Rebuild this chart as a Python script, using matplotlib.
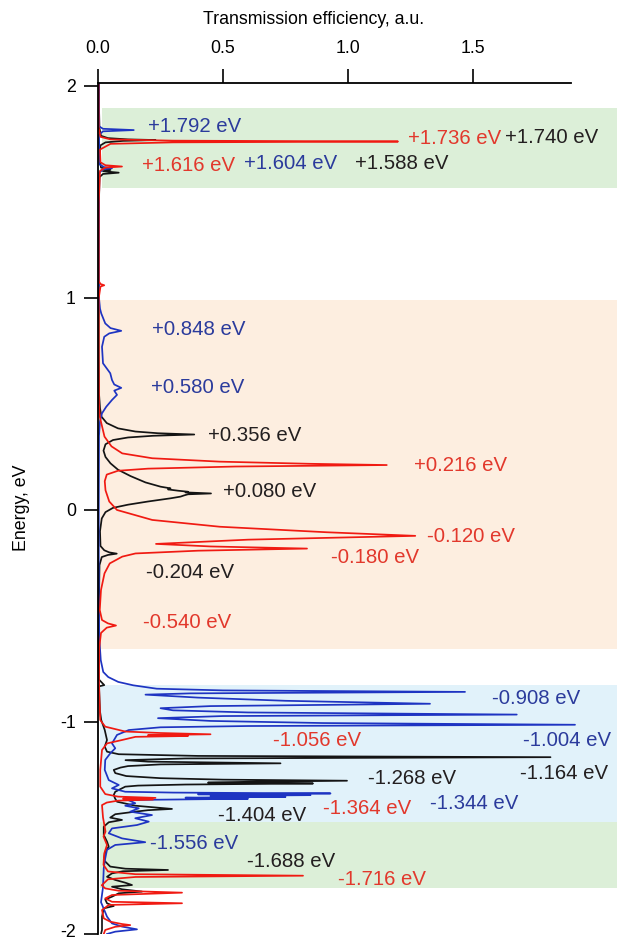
import matplotlib
matplotlib.use("Agg")
import matplotlib.pyplot as plt
from matplotlib.transforms import ScaledTranslation

plt.rcParams['font.family'] = ['Liberation Sans', 'DejaVu Sans']

# (energy eV, transmission a.u.), top to bottom
black_pts = [
    (2.014, 0.004), (1.90, 0.004), (1.80, 0.006), (1.765, 0.012), (1.754, 0.04),
    (1.748, 0.12), (1.745, 0.23), (1.741, 0.10), (1.734, 0.03), (1.72, 0.01),
    (1.66, 0.006), (1.615, 0.012), (1.604, 0.05), (1.598, 0.02), (1.591, 0.083),
    (1.585, 0.02), (1.57, 0.006), (1.40, 0.003), (1.00, 0.003), (0.75, 0.003),
    (0.55, 0.004), (0.48, 0.008), (0.44, 0.014), (0.41, 0.035), (0.385, 0.08),
    (0.37, 0.15), (0.362, 0.24), (0.356, 0.385), (0.350, 0.22), (0.342, 0.12),
    (0.33, 0.06), (0.31, 0.03), (0.28, 0.022), (0.25, 0.03), (0.22, 0.05),
    (0.19, 0.08), (0.16, 0.13), (0.13, 0.19), (0.11, 0.25), (0.102, 0.29),
    (0.097, 0.28), (0.091, 0.32), (0.086, 0.36), (0.083, 0.35), (0.078, 0.452),
    (0.074, 0.36), (0.069, 0.345), (0.063, 0.33), (0.055, 0.29), (0.04, 0.20),
    (0.025, 0.12), (0.01, 0.06), (-0.01, 0.03), (-0.04, 0.015), (-0.10, 0.008),
    (-0.17, 0.01), (-0.19, 0.025), (-0.200, 0.045), (-0.206, 0.075), (-0.212, 0.04),
    (-0.222, 0.015), (-0.26, 0.006), (-0.50, 0.003), (-0.80, 0.004), (-0.826, 0.025),
    (-0.832, 0.004), (-0.95, 0.008), (-0.991, 0.013), (-1.038, 0.027), (-1.085, 0.036),
    (-1.116, 0.027), (-1.140, 0.036), (-1.152, 0.083), (-1.160, 0.40), (-1.166, 1.81),
    (-1.172, 0.35), (-1.180, 0.11), (-1.187, 0.20), (-1.195, 0.73), (-1.200, 0.25),
    (-1.208, 0.12), (-1.215, 0.09), (-1.226, 0.063), (-1.241, 0.069), (-1.255, 0.113),
    (-1.265, 0.25), (-1.272, 0.50), (-1.277, 0.996), (-1.282, 0.60), (-1.286, 0.44),
    (-1.290, 0.86), (-1.295, 0.35), (-1.300, 0.16), (-1.305, 0.109), (-1.329, 0.069),
    (-1.344, 0.063), (-1.360, 0.068), (-1.376, 0.076), (-1.395, 0.15), (-1.402, 0.22),
    (-1.410, 0.296), (-1.416, 0.20), (-1.423, 0.149), (-1.435, 0.069), (-1.451, 0.049),
    (-1.462, 0.096), (-1.473, 0.043), (-1.494, 0.023), (-1.533, 0.023), (-1.564, 0.036),
    (-1.588, 0.043), (-1.611, 0.029), (-1.651, 0.023), (-1.682, 0.049), (-1.692, 0.11),
    (-1.698, 0.28), (-1.704, 0.10), (-1.714, 0.056), (-1.730, 0.036), (-1.745, 0.069),
    (-1.758, 0.109), (-1.769, 0.136), (-1.777, 0.056), (-1.789, 0.096), (-1.800, 0.176),
    (-1.808, 0.083), (-1.824, 0.056), (-1.837, 0.029), (-1.855, 0.036), (-1.868, 0.063),
    (-1.879, 0.023), (-1.918, 0.016), (-1.981, 0.016), (-2.0, 0.012),
]

red_pts = [
    (2.014, 0.002), (1.80, 0.003), (1.76, 0.01), (1.748, 0.05), (1.742, 0.30),
    (1.738, 1.20), (1.734, 0.30), (1.727, 0.05), (1.70, 0.008), (1.64, 0.01),
    (1.626, 0.03), (1.620, 0.096), (1.615, 0.03), (1.60, 0.008), (1.45, 0.003),
    (1.08, 0.003), (1.066, 0.01), (1.060, 0.025), (1.054, 0.01), (1.00, 0.003),
    (0.70, 0.003), (0.50, 0.004), (0.44, 0.007), (0.346, 0.026), (0.30, 0.054),
    (0.267, 0.097), (0.244, 0.217), (0.228, 0.487), (0.218, 0.842), (0.212, 1.155),
    (0.205, 0.55), (0.195, 0.20), (0.185, 0.08), (0.167, 0.035), (0.136, 0.027),
    (0.093, 0.03), (0.04, 0.045), (0.0, 0.076), (-0.047, 0.217), (-0.079, 0.487),
    (-0.105, 0.914), (-0.122, 1.269), (-0.140, 0.60), (-0.160, 0.232), (-0.172, 0.45),
    (-0.182, 0.836), (-0.192, 0.40), (-0.205, 0.15), (-0.220, 0.097), (-0.252, 0.047),
    (-0.299, 0.026), (-0.377, 0.012), (-0.472, 0.007), (-0.519, 0.016), (-0.535, 0.04),
    (-0.545, 0.072), (-0.555, 0.035), (-0.58, 0.012), (-0.65, 0.005), (-0.80, 0.004),
    (-0.90, 0.006), (-0.991, 0.009), (-1.022, 0.029), (-1.045, 0.109), (-1.052, 0.25),
    (-1.058, 0.45), (-1.062, 0.20), (-1.066, 0.36), (-1.070, 0.15), (-1.085, 0.096),
    (-1.101, 0.036), (-1.132, 0.016), (-1.226, 0.009), (-1.305, 0.009), (-1.340, 0.029),
    (-1.352, 0.08), (-1.358, 0.23), (-1.362, 0.10), (-1.366, 0.22), (-1.371, 0.08),
    (-1.380, 0.035), (-1.392, 0.016), (-1.45, 0.02), (-1.517, 0.03), (-1.54, 0.022),
    (-1.58, 0.036), (-1.62, 0.025), (-1.674, 0.022), (-1.705, 0.04), (-1.718, 0.15),
    (-1.725, 0.82), (-1.731, 0.15), (-1.742, 0.04), (-1.77, 0.015), (-1.785, 0.029),
    (-1.796, 0.083), (-1.805, 0.336), (-1.816, 0.056), (-1.832, 0.029), (-1.848, 0.056),
    (-1.855, 0.336), (-1.863, 0.043), (-1.887, 0.016), (-1.926, 0.023), (-1.942, 0.049),
    (-1.953, 0.096), (-1.958, 0.129), (-1.966, 0.069), (-1.981, 0.029), (-2.0, 0.023),
]

blue_pts = [
    (2.014, 0.003), (1.81, 0.004), (1.798, 0.02), (1.792, 0.143), (1.786, 0.02),
    (1.77, 0.004), (1.63, 0.006), (1.617, 0.025), (1.612, 0.056), (1.607, 0.02),
    (1.59, 0.005), (1.20, 0.003), (1.00, 0.004), (0.95, 0.008), (0.927, 0.013),
    (0.88, 0.029), (0.858, 0.05), (0.845, 0.093), (0.833, 0.045), (0.817, 0.025),
    (0.77, 0.016), (0.692, 0.02), (0.645, 0.049), (0.613, 0.056), (0.592, 0.065),
    (0.576, 0.093), (0.563, 0.065), (0.543, 0.076), (0.519, 0.056), (0.487, 0.033),
    (0.456, 0.016), (0.42, 0.008), (0.35, 0.004), (0.00, 0.003), (-0.40, 0.003),
    (-0.60, 0.005), (-0.708, 0.011), (-0.764, 0.021), (-0.788, 0.041), (-0.811, 0.081),
    (-0.827, 0.141), (-0.843, 0.235), (-0.851, 0.50), (-0.858, 1.468), (-0.865, 0.37),
    (-0.871, 0.19), (-0.885, 0.40), (-0.900, 0.75), (-0.914, 1.328), (-0.925, 0.45),
    (-0.935, 0.25), (-0.945, 0.30), (-0.955, 0.60), (-0.965, 1.675), (-0.972, 0.50),
    (-0.982, 0.24), (-0.995, 0.45), (-1.005, 0.90), (-1.013, 1.908), (-1.019, 0.60),
    (-1.025, 0.25), (-1.038, 0.123), (-1.061, 0.076), (-1.101, 0.056), (-1.124, 0.069),
    (-1.148, 0.049), (-1.179, 0.029), (-1.226, 0.027), (-1.274, 0.043), (-1.297, 0.083),
    (-1.313, 0.056), (-1.329, 0.109), (-1.333, 0.30), (-1.337, 0.93), (-1.341, 0.40),
    (-1.345, 0.85), (-1.349, 0.45), (-1.353, 0.75), (-1.357, 0.35), (-1.362, 0.60),
    (-1.368, 0.12), (-1.383, 0.149), (-1.395, 0.109), (-1.407, 0.163), (-1.423, 0.129),
    (-1.439, 0.216), (-1.454, 0.149), (-1.470, 0.203), (-1.486, 0.156), (-1.502, 0.056),
    (-1.525, 0.043), (-1.549, 0.096), (-1.567, 0.189), (-1.580, 0.069), (-1.603, 0.036),
    (-1.643, 0.029), (-1.690, 0.023), (-1.78, 0.02), (-1.85, 0.012), (-1.918, 0.036),
    (-1.950, 0.056), (-1.965, 0.096), (-1.978, 0.156), (-1.989, 0.069), (-2.0, 0.036),
]

# shaded energy windows: (top, bottom, left edge in a.u., colour)
bands = [
    (1.896, 1.519, 0.014, '#dcefd8'),
    (0.991, -0.657, 0.006, '#fdeee0'),
    (-0.824, -1.472, 0.006, '#e1f2fa'),
    (-1.472, -1.785, 0.006, '#dcefd8'),
]

# peak labels: text, colour key, x (a.u.), y (eV)
peak_labels = [
    ("+1.792 eV", 'b', 0.200, 1.808),
    ("+1.736 eV", 'r', 1.240, 1.750),
    ("+1.740 eV", 'k', 1.628, 1.759),
    ("+1.616 eV", 'r', 0.176, 1.627),
    ("+1.604 eV", 'b', 0.584, 1.632),
    ("+1.588 eV", 'k', 1.028, 1.632),
    ("+0.848 eV", 'b', 0.216, 0.849),
    ("+0.580 eV", 'b', 0.212, 0.580),
    ("+0.356 eV", 'k', 0.440, 0.349),
    ("+0.216 eV", 'r', 1.264, 0.212),
    ("+0.080 eV", 'k', 0.500, 0.085),
    ("-0.120 eV", 'r', 1.316, -0.127),
    ("-0.180 eV", 'r', 0.932, -0.222),
    ("-0.204 eV", 'k', 0.192, -0.297),
    ("-0.540 eV", 'r', 0.180, -0.533),
    ("-0.908 eV", 'b', 1.576, -0.890),
    ("-1.004 eV", 'b', 1.701, -1.086),
    ("-1.056 eV", 'r', 0.700, -1.088),
    ("-1.164 eV", 'k', 1.688, -1.242),
    ("-1.268 eV", 'k', 1.081, -1.266),
    ("-1.364 eV", 'r', 0.900, -1.407),
    ("-1.344 eV", 'b', 1.326, -1.384),
    ("-1.404 eV", 'k', 0.481, -1.443),
    ("-1.556 eV", 'b', 0.209, -1.572),
    ("-1.688 eV", 'k', 0.595, -1.656),
    ("-1.716 eV", 'r', 0.961, -1.745),
]

line_colors = {'k': '#141414', 'r': '#f01a12', 'b': '#1e34c2'}
text_colors = {'k': '#231f20', 'r': '#e2382c', 'b': '#2b3b9c'}

fig = plt.figure(figsize=(6.17, 9.42), dpi=100)
ax = fig.add_axes([98 / 617, 8 / 942, 519 / 617, 851 / 942])
ax.set_xlim(0, 519 / 250)
ax.set_ylim(-2.0, 2.014)

xmax = 519 / 250
for top, bottom, left, col in bands:
    ax.axhspan(bottom, top, xmin=left / xmax, xmax=1, color=col, lw=0, zorder=0)

for pts, key in [(black_pts, 'k'), (blue_pts, 'b'), (red_pts, 'r')]:
    e, t = zip(*pts)
    ax.plot(t, e, color=line_colors[key], lw=1.25, zorder=2)

for txt, key, x, y in peak_labels:
    ax.text(x, y, txt, color=text_colors[key], fontsize=14.7,
            ha='left', va='center', zorder=3)

ax.spines['right'].set_visible(False)
ax.spines['bottom'].set_visible(False)
ax.spines['top'].set_bounds(0, 1.892)
ax.spines['left'].set_bounds(-2.0, 2.014)
for s in ['top', 'left']:
    ax.spines[s].set_linewidth(1.3)
    ax.spines[s].set_zorder(4)

ax.xaxis.tick_top()
ax.set_xticks([0, 0.5, 1.0, 1.5])
ax.set_xticklabels(["0.0", "0.5", "1.0", "1.5"])
ax.set_yticks([2, 1, 0, -1, -2])
ax.set_yticklabels(["2", "1", "0", "-1", "-2"])
ax.tick_params(axis='x', direction='out', length=10, width=1.2, pad=9, labelsize=12.8)
ax.tick_params(axis='y', direction='out', length=10, width=1.2, pad=6, labelsize=12.8)

# the lowest tick label sits right at the figure edge; lift it slightly
low = ax.get_yticklabels()[-1]
low.set_transform(low.get_transform() + ScaledTranslation(0, 2.5 / 72, fig.dpi_scale_trans))

fig.text(314 / 617, 1 - 20 / 942, "Transmission efficiency, a.u.",
         ha='center', va='center', fontsize=12.8)
fig.text(22 / 617, 1 - 508 / 942, "Energy, eV", rotation=90,
         ha='center', va='center', fontsize=12.8)

fig.savefig("out.png", dpi=100)
